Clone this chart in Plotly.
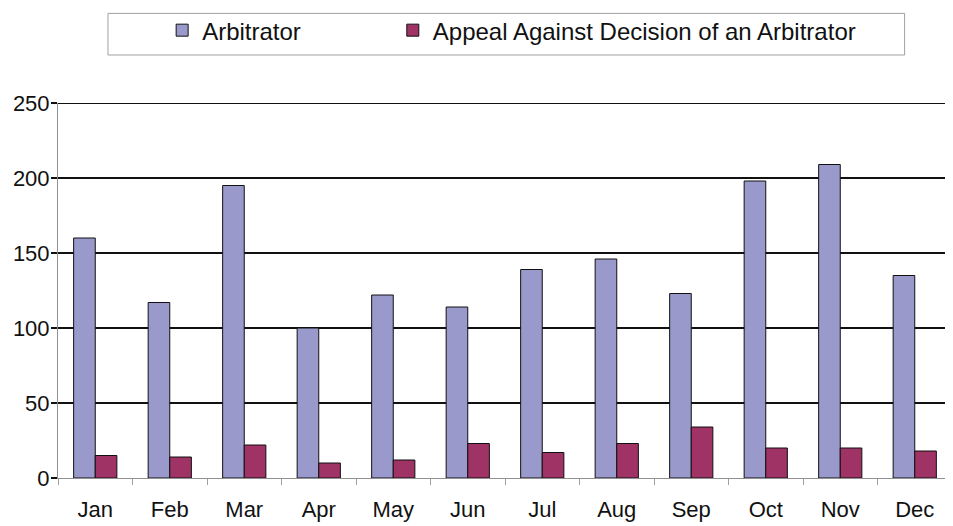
import plotly.graph_objects as go

months = ["Jan", "Feb", "Mar", "Apr", "May", "Jun", "Jul", "Aug", "Sep", "Oct", "Nov", "Dec"]
arbitrator = [160, 117, 195, 100, 122, 114, 139, 146, 123, 198, 209, 135]
appeal = [15, 14, 22, 10, 12, 23, 17, 23, 34, 20, 20, 18]
y_ticks = [0, 50, 100, 150, 200, 250]

FONT = "Liberation Sans, Arial, sans-serif"
FS = 22

fig = go.Figure()
fig.add_trace(go.Bar(name="Arbitrator", x=months, y=arbitrator, legend="legend",
                     marker=dict(color="#9999CC", line=dict(color="#111111", width=1))))
fig.add_trace(go.Bar(name="Appeal Against Decision of an Arbitrator", x=months, y=appeal,
                     legend="legend2",
                     marker=dict(color="#A03366", line=dict(color="#111111", width=1))))

leg_common = dict(orientation="h", y=1.19, yanchor="middle", xanchor="left",
                  font=dict(family=FONT, size=24, color="#111111"),
                  bgcolor="rgba(0,0,0,0)", borderwidth=0, itemwidth=30)

fig.update_layout(
    width=945, height=518,
    margin=dict(l=50, r=1, t=94, b=48),
    paper_bgcolor="white", plot_bgcolor="white",
    barmode="group", bargap=0.42, bargroupgap=0,
    font=dict(family=FONT, size=FS, color="#111111"),
    showlegend=True,
    legend=dict(x=0.1165, **leg_common),
    legend2=dict(x=0.3745, **leg_common),
    shapes=[
        dict(type="rect", xref="paper", yref="paper",
             x0=0.0559, x1=0.947, y0=1.128, y1=1.239,
             line=dict(color="#A0A0A0", width=1), fillcolor="rgba(0,0,0,0)"),
        dict(type="line", xref="paper", yref="y", x0=0, x1=1, y0=250, y1=250,
             line=dict(color="#111111", width=2)),
    ],
)
fig.update_xaxes(type="category", showline=True, linecolor="#909090", linewidth=1,
                 ticks="outside", tickson="boundaries", ticklen=6, tickcolor="#A0A0A0",
                 showgrid=False, tickfont=dict(size=FS), ticklabelstandoff=12)
fig.update_yaxes(range=[0, 250], tickvals=y_ticks, showline=True, linecolor="#909090", linewidth=1,
                 ticks="outside", ticklen=6, tickcolor="#111111", tickwidth=2,
                 showgrid=True, gridcolor="#111111", gridwidth=2, zeroline=False,
                 tickfont=dict(size=FS), ticklabelstandoff=-3)

fig.write_html("out.html")
